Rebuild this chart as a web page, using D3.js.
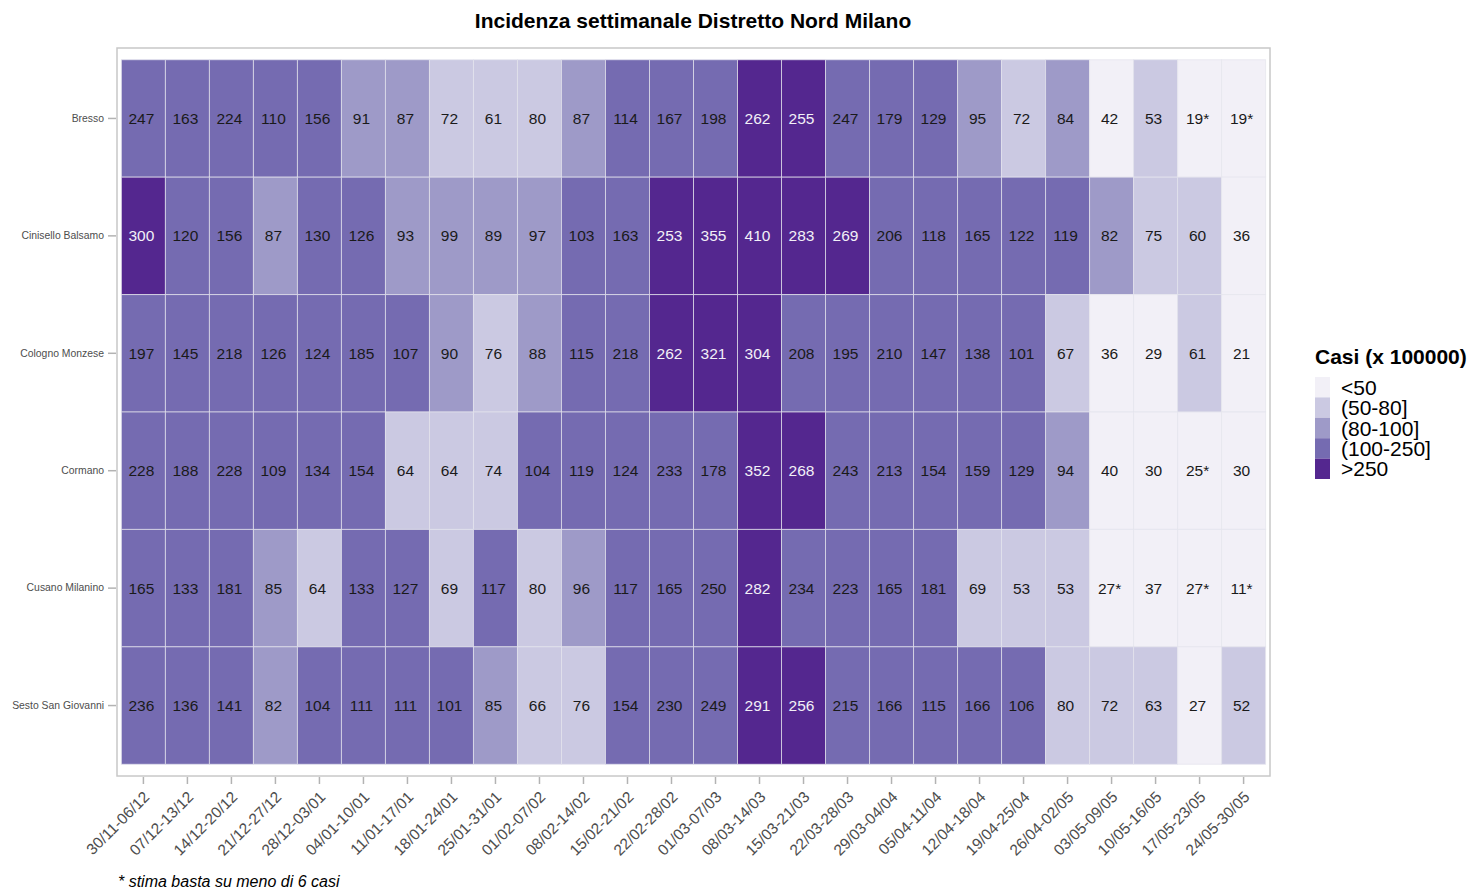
<!DOCTYPE html>
<html>
<head>
<meta charset="utf-8">
<script src="https://cdn.jsdelivr.net/npm/d3@7"></script>
<style>
  body { margin: 0; background: #fff; }
  text { font-family: "Liberation Sans", Arial, sans-serif; }
</style>
</head>
<body>
<div id="chart"></div>
<script>
// settimane (asse x)
var weeks = ["30/11-06/12","07/12-13/12","14/12-20/12","21/12-27/12","28/12-03/01","04/01-10/01",
  "11/01-17/01","18/01-24/01","25/01-31/01","01/02-07/02","08/02-14/02","15/02-21/02","22/02-28/02",
  "01/03-07/03","08/03-14/03","15/03-21/03","22/03-28/03","29/03-04/04","05/04-11/04","12/04-18/04",
  "19/04-25/04","26/04-02/05","03/05-09/05","10/05-16/05","17/05-23/05","24/05-30/05"];

var comuni = ["Bresso","Cinisello Balsamo","Cologno Monzese","Cormano","Cusano Milanino","Sesto San Giovanni"];

// incidenza per comune, "*" = stima su meno di 6 casi
var bresso    = [247,163,224,110,156,91,87,72,61,80,87,114,167,198,262,255,247,179,129,95,72,84,42,53,"19*","19*"];
var cinisello = [300,120,156,87,130,126,93,99,89,97,103,163,253,355,410,283,269,206,118,165,122,119,82,75,60,36];
var cologno   = [197,145,218,126,124,185,107,90,76,88,115,218,262,321,304,208,195,210,147,138,101,67,36,29,61,21];
var cormano   = [228,188,228,109,134,154,64,64,74,104,119,124,233,178,352,268,243,213,154,159,129,94,40,30,"25*",30];
var cusano    = [165,133,181,85,64,133,127,69,117,80,96,117,165,250,282,234,223,165,181,69,53,53,"27*",37,"27*","11*"];
var sesto     = [236,136,141,82,104,111,111,101,85,66,76,154,230,249,291,256,215,166,115,166,106,80,72,63,27,52];

var classi = ["<50","(50-80]","(80-100]","(100-250]",">250"];
var colori = ["#f2f0f7","#cbc9e2","#9e9ac8","#756bb1","#54278f"];

var righe = [bresso, cinisello, cologno, cormano, cusano, sesto];

var cells = [];
righe.forEach(function (r, i) {
  r.forEach(function (v, j) {
    cells.push({ comune: comuni[i], week: weeks[j], label: String(v), value: parseFloat(v) });
  });
});

function classe(v) {
  if (v < 50) return 0;
  if (v <= 80) return 1;
  if (v <= 100) return 2;
  if (v <= 250) return 3;
  return 4;
}

var width = 1467, height = 891;
var panel = { left: 117, right: 1270, top: 48, bottom: 776 };

var svg = d3.select("#chart").append("svg")
  .attr("width", width)
  .attr("height", height);

// padding stile ggplot (0.6 unità su scala discreta)
var x = d3.scaleBand()
  .domain(weeks)
  .range([panel.left, panel.right])
  .paddingOuter(0.1)
  .paddingInner(0);
var y = d3.scaleBand()
  .domain(comuni)
  .range([panel.top, panel.bottom])
  .paddingOuter(0.1)
  .paddingInner(0);

svg.append("rect")
  .attr("x", panel.left)
  .attr("y", panel.top)
  .attr("width", panel.right - panel.left)
  .attr("height", panel.bottom - panel.top)
  .attr("fill", "#fff")
  .attr("stroke", "#c8c8c8")
  .attr("stroke-width", 1.5);

svg.append("g").selectAll("rect")
  .data(cells)
  .join("rect")
  .attr("x", function (d) { return x(d.week); })
  .attr("y", function (d) { return y(d.comune); })
  .attr("width", x.bandwidth())
  .attr("height", y.bandwidth())
  .attr("fill", function (d) { return colori[classe(d.value)]; })
  .attr("stroke", "#e4e4ec")
  .attr("stroke-opacity", 0.7)
  .attr("stroke-width", 1);

svg.append("g").selectAll("text")
  .data(cells)
  .join("text")
  .attr("x", function (d) { return x(d.week) + x.bandwidth() / 2 - 2; })
  .attr("y", function (d) { return y(d.comune) + y.bandwidth() / 2; })
  .attr("dy", "0.36em")
  .attr("text-anchor", "middle")
  .style("font-size", "15.5px")
  .style("fill", function (d) { return classe(d.value) === 4 ? "#f2f0f7" : "#1a1a1a"; })
  .text(function (d) { return d.label; });

// assi
var xAxis = svg.append("g")
  .attr("transform", "translate(0," + (panel.bottom + 1) + ")")
  .call(d3.axisBottom(x).tickSize(7));
xAxis.select(".domain").remove();
xAxis.selectAll(".tick line").attr("stroke", "#b3b3b3").attr("stroke-width", 1.5);
xAxis.selectAll(".tick text")
  .attr("fill", "#4d4d4d")
  .style("font-size", "15.5px")
  .attr("text-anchor", "end")
  .attr("x", 0)
  .attr("y", 0)
  .attr("dy", 0)
  .attr("transform", "translate(7,21) rotate(-45)");

var yAxis = svg.append("g")
  .attr("transform", "translate(" + (panel.left - 1) + ",0)")
  .call(d3.axisLeft(y).tickSize(8).tickPadding(4));
yAxis.select(".domain").remove();
yAxis.selectAll(".tick line").attr("stroke", "#b3b3b3").attr("stroke-width", 1.5);
yAxis.selectAll(".tick text")
  .attr("fill", "#4d4d4d")
  .style("font-size", "10.4px");

// titolo
svg.append("text")
  .attr("x", 693)
  .attr("y", 28)
  .attr("text-anchor", "middle")
  .style("font-size", "21px")
  .style("font-weight", "bold")
  .style("fill", "#000")
  .text("Incidenza settimanale Distretto Nord Milano");

// legenda
var lg = svg.append("g").attr("transform", "translate(1315,0)");
lg.append("text")
  .attr("x", 0)
  .attr("y", 364)
  .style("font-size", "21px")
  .style("font-weight", "bold")
  .text("Casi (x 100000)");
var keyH = 20.4;
lg.selectAll("rect")
  .data(classi)
  .join("rect")
  .attr("x", 0)
  .attr("y", function (d, i) { return 377 + i * keyH; })
  .attr("width", 15)
  .attr("height", keyH)
  .attr("fill", function (d, i) { return colori[i]; });
lg.selectAll("text.lab")
  .data(classi)
  .join("text")
  .attr("class", "lab")
  .attr("x", 26)
  .attr("y", function (d, i) { return 377 + i * keyH + keyH / 2; })
  .attr("dy", "0.36em")
  .style("font-size", "21px")
  .style("fill", "#000")
  .text(function (d) { return d; });

// nota
svg.append("text")
  .attr("x", 118)
  .attr("y", 887)
  .style("font-size", "16px")
  .style("font-style", "italic")
  .style("fill", "#000")
  .text("* stima basta su meno di 6 casi");
</script>
</body>
</html>
